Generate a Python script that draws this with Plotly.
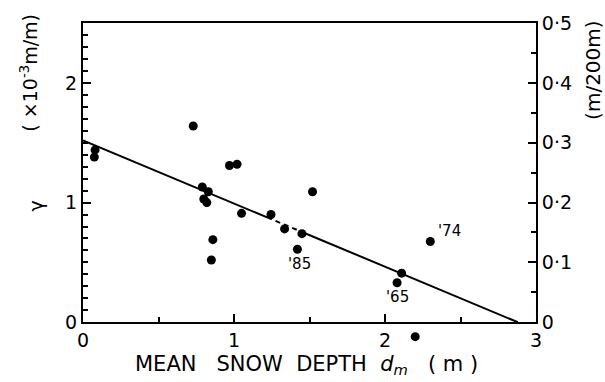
import plotly.graph_objects as go

# data
depth = [0.08, 0.075, 0.73, 0.97, 1.02, 0.79, 0.83, 0.80, 0.82, 1.05, 0.86, 0.85,
         1.245, 1.335, 1.45, 1.42, 1.52, 2.30, 2.11, 2.08]
gamma = [1.44, 1.38, 1.64, 1.31, 1.32, 1.13, 1.09, 1.03, 1.00, 0.91, 0.69, 0.52,
         0.90, 0.78, 0.74, 0.61, 1.09, 0.675, 0.41, 0.33]
# one observation lies below the axis (negative gamma), drawn outside the frame
low_depth = [2.20]
low_gamma = [-0.12]

fit_solid1_x = [0.0, 1.22]
fit_solid1_y = [1.52, 0.876]
fit_dash_x = [1.22, 1.47]
fit_dash_y = [0.876, 0.744]
fit_solid2_x = [1.47, 2.88]
fit_solid2_y = [0.744, 0.0]

year_labels = ["'85", "'65", "'74"]
year_x = [1.42, 2.08, 2.30]
year_y = [0.61, 0.33, 0.675]
year_dx = [2, 0, 19]
year_dy = [15, 14, -10]

left_ticks = [0, 1, 2]
right_ticks = [0, 0.1, 0.2, 0.3, 0.4, 0.5]
right_text = ["0", "0·1", "0·2", "0·3", "0·4", "0·5"]
x_ticks = [0, 1, 2, 3]

FONT = "DejaVu Sans"
W, H = 605, 382
ML, MR, MT, MB = 83, 69, 20, 30
plot_bottom = 322
paper_h = H - MT - MB
ydom0 = (H - MB - plot_bottom) / paper_h
Y_MAX = 2.5
px_per_unit = (plot_bottom - MT) / Y_MAX
y3_min = -(H - MB - plot_bottom) / px_per_unit

fig = go.Figure()
fig.add_trace(go.Scatter(x=low_depth, y=low_gamma, yaxis="y3", mode="markers",
                         cliponaxis=False, marker=dict(color="black", size=9), showlegend=False))
fig.add_trace(go.Scatter(x=fit_solid1_x, y=fit_solid1_y, mode="lines",
                         line=dict(color="black", width=2), showlegend=False))
fig.add_trace(go.Scatter(x=fit_dash_x, y=fit_dash_y, mode="lines",
                         line=dict(color="black", width=2, dash="5px,4px"), showlegend=False))
fig.add_trace(go.Scatter(x=fit_solid2_x, y=fit_solid2_y, mode="lines",
                         line=dict(color="black", width=2), showlegend=False))
fig.add_trace(go.Scatter(x=depth, y=gamma, mode="markers", cliponaxis=False,
                         marker=dict(color="black", size=9), showlegend=False))
fig.add_trace(go.Scatter(x=[0, 3], y=[0, 0.5], yaxis="y2", mode="markers",
                         marker=dict(opacity=0), showlegend=False, hoverinfo="skip"))

for t, xx, yy, dx, dy in zip(year_labels, year_x, year_y, year_dx, year_dy):
    fig.add_annotation(x=xx, y=yy, text=t, showarrow=False, xshift=dx, yshift=-dy,
                       font=dict(family=FONT, size=15, color="black"))

fig.add_annotation(xref="x domain", yref="y domain", x=0, y=0.387, text="γ", xanchor="center",
                   yanchor="middle", xshift=-47, textangle=-90, showarrow=False,
                   font=dict(family=FONT, size=19, color="black"))
fig.add_annotation(xref="x domain", yref="y domain", x=0, y=0.834, xanchor="center",
                   yanchor="middle", xshift=-54,
                   text="( ×10<sup>-3</sup>m/m)", textangle=-90, showarrow=False,
                   font=dict(family=FONT, size=19, color="black"))
fig.add_annotation(xref="x domain", yref="y domain", x=1, y=0.84, xanchor="center",
                   yanchor="middle", xshift=57, text="(m/200m)",
                   textangle=-90, showarrow=False, font=dict(family=FONT, size=20, color="black"))
fig.add_annotation(xref="x domain", yref="y domain", x=(306 - ML) / (W - ML - MR), y=-0.142,
                   text="MEAN   SNOW  DEPTH  <i>d<sub>m</sub></i>   ( m )", showarrow=False,
                   yanchor="middle", font=dict(family=FONT, size=21, color="black"))

axis_common = dict(showgrid=False, zeroline=False, showline=True, linecolor="black",
                   linewidth=2, ticks="inside", tickcolor="black", tickwidth=2,
                   tickfont=dict(family=FONT, size=19, color="black"))

fig.update_layout(
    width=W, height=H, margin=dict(l=ML, r=MR, t=MT, b=MB),
    paper_bgcolor="white", plot_bgcolor="rgba(0,0,0,0)",
    xaxis=dict(range=[0, 3], tickvals=x_ticks, ticklen=8, mirror=True, anchor="y",
               minor=dict(dtick=0.5, ticks="inside", ticklen=5, tickcolor="black", tickwidth=2),
               **axis_common),
    yaxis=dict(range=[0, Y_MAX], domain=[ydom0, 1], tickvals=left_ticks, ticklen=8,
               minor=dict(dtick=0.1, ticks="inside", ticklen=5, tickcolor="black", tickwidth=2),
               **axis_common),
    yaxis2=dict(range=[0, 0.5], overlaying="y", side="right", tickvals=right_ticks,
                ticktext=right_text, ticklen=8,
                minor=dict(dtick=0.05, ticks="inside", ticklen=5, tickcolor="black", tickwidth=2),
                **axis_common),
    yaxis3=dict(range=[y3_min, Y_MAX], domain=[0, 1], anchor="x", visible=False,
                showgrid=False, zeroline=False),
)
fig.write_html("out.html")
